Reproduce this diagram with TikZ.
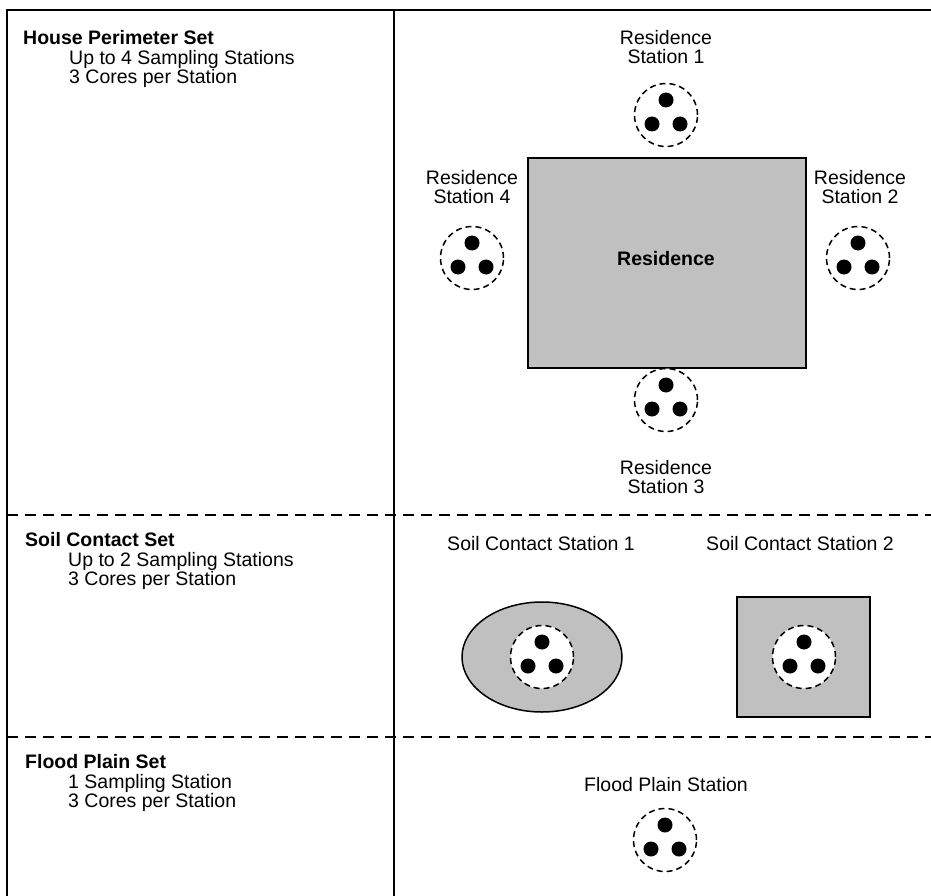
\documentclass[tikz,border=0pt]{standalone}
\usepackage{fontspec}
\setmainfont{Liberation Sans}
\definecolor{housegray}{HTML}{C0C0C0}

\begin{document}
\begin{tikzpicture}[x=1pt, y=-1pt,
	frame/.style={line width=2pt},
	setline/.style={line width=2pt, dash pattern=on 11pt off 7pt},
	ring/.style={circle, draw, fill=white, line width=1.5pt, dash pattern=on 6pt off 4pt, minimum size=63pt, inner sep=0pt},
	core/.style={circle, fill=black, inner sep=0pt, minimum size=15pt},
	area/.style={draw, fill=housegray, line width=1.5pt},
	txt/.style={font=\fontsize{19.5}{19.5}\selectfont, inner sep=0pt},
	lbl/.style={txt, align=center}]
	
	\useasboundingbox (0,0) rectangle (931,896);
	
	% --- 1. 外框与分区线 ---
	\draw[frame] (931,10) -- (7,10) -- (7,896);
	\draw[frame] (394,10) -- (394,896);
	\draw[setline] (7,515) -- (931,515);
	\draw[setline] (7,737) -- (931,737);
	
	% --- 2. 左栏说明 ---
	\node[txt, font=\fontsize{19.5}{19.5}\selectfont\bfseries, anchor=base west] (hpset) at (23,45) {House Perimeter Set};
	\node[txt, anchor=base west] (hpnum) at (69,65) {Up to 4 Sampling Stations};
	\node[txt, anchor=base west] (hpcore) at (69,84) {3 Cores per Station};
	
	\node[txt, font=\fontsize{19.5}{19.5}\selectfont\bfseries, anchor=base west] (scset) at (25,546) {Soil Contact Set};
	\node[txt, anchor=base west] (scnum) at (68,566) {Up to 2 Sampling Stations};
	\node[txt, anchor=base west] (sccore) at (68,585) {3 Cores per Station};
	
	\node[txt, font=\fontsize{19.5}{19.5}\selectfont\bfseries, anchor=base west] (fpset) at (25,768) {Flood Plain Set};
	\node[txt, anchor=base west] (fpnum) at (68,788) {1 Sampling Station};
	\node[txt, anchor=base west] (fpcore) at (68,807) {3 Cores per Station};
	
	% --- 3. 住宅与采样区域 ---
	\draw[area] (528,158) rectangle (806,368);
	\node[txt, font=\fontsize{19.5}{19.5}\selectfont\bfseries] (residence) at (666,259) {Residence};
	\draw[area] (542,657) ellipse [x radius=80, y radius=55];
	\draw[area] (737,597) rectangle (870,717);
	
	% --- 4. 采样站 (虚线圈 + 3 个取芯点) ---
	\coordinate (RS1) at (666,115);
	\coordinate (RS2) at (858,258);
	\coordinate (RS3) at (666,400);
	\coordinate (RS4) at (472,258);
	\coordinate (SC1) at (542,657);
	\coordinate (SC2) at (804,657);
	\coordinate (FP) at (665,840);
	\foreach \s in {RS1,RS2,RS3,RS4,SC1,SC2,FP} {
		\node[ring] (\s ring) at (\s) {};
		\node[core] (\s top) at ([shift={(0,-15)}]\s) {};
		\node[core] (\s left) at ([shift={(-14,9)}]\s) {};
		\node[core] (\s right) at ([shift={(14,9)}]\s) {};
	}
	
	% --- 5. 站点标签 ---
	\node[lbl] (rs1lbl) at (666,47) {Residence\\Station 1};
	\node[lbl] (rs2lbl) at (860,187) {Residence\\Station 2};
	\node[lbl] (rs3lbl) at (666,477) {Residence\\Station 3};
	\node[lbl] (rs4lbl) at (472,187) {Residence\\Station 4};
	\node[txt, anchor=base] (sc1lbl) at (541,550) {Soil Contact Station 1};
	\node[txt, anchor=base] (sc2lbl) at (800,550) {Soil Contact Station 2};
	\node[txt, anchor=base] (fplbl) at (666,791) {Flood Plain Station};
	
\end{tikzpicture}
\end{document}
